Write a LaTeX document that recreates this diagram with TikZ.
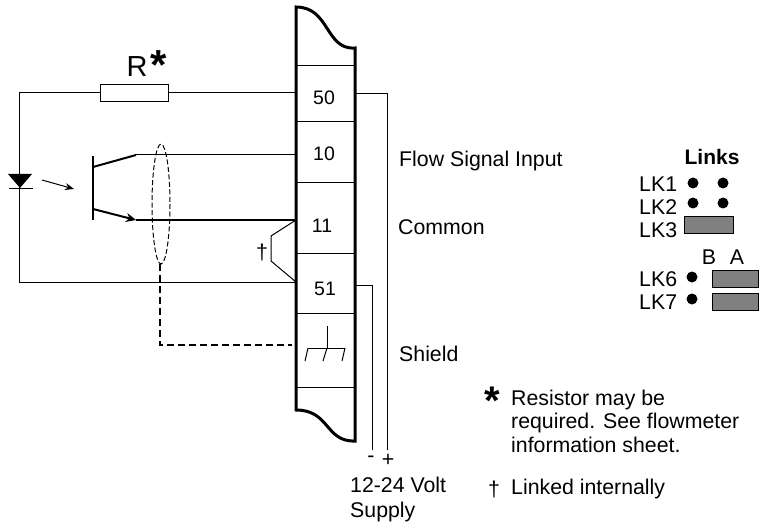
\documentclass[tikz,border=0pt]{standalone}
\usepackage{fontspec}
\setmainfont{Liberation Sans}
\usepackage{xcolor}
\definecolor{g}{rgb}{0.5,0.5,0.5}
\usepackage{tikz}
\usetikzlibrary{arrows.meta, positioning, calc}
\tikzset{
    lab/.style={inner sep=0pt, font=\fontsize{21.3}{23.5}\selectfont},
    numlab/.style={inner sep=0pt, font=\fontsize{19.5}{22}\selectfont},
    leftlab/.style={lab, anchor=west},
    wire/.style={line width=1pt},
    heavy/.style={line width=2pt},
    linkbar/.style={draw, fill=g, line width=0.8pt, inner sep=0pt},
    pin/.style={circle, fill=black, inner sep=0pt, minimum size=11pt},
}

\begin{document}
\begin{tikzpicture}[x=1pt, y=-1pt]
    \useasboundingbox (0,0) rectangle (759,529);

    % Draw terminal block outline
    \draw[line width=3pt] (355,48) .. controls (325,50) and (330,7) .. (296,7)
        -- (296,410) .. controls (330,410) and (325,442) .. (355,441) -- cycle;

    % Draw dividers of the block
    \foreach \y in {66,122,183,253,313,387}
        \draw[wire] (296,\y) -- (355,\y);

    % Terminal labels
    \node[numlab] (t50) at (324,98) {50};
    \node[numlab] (t10) at (324,154) {10};
    \node[numlab] (t11) at (322,226) {11};
    \node[numlab] (t51) at (325,289) {51};

    % Points on the block edges
    \coordinate (p50) at (296,93);
    \coordinate (p10) at (296,155);
    \coordinate (p11) at (296,220);
    \coordinate (p51) at (296,282);
    \coordinate (q50) at (355,94);
    \coordinate (q51) at (355,285);

    % Resistor and its label
    \node[draw, wire, fill=white, minimum width=68pt, minimum height=17pt, inner sep=0pt] (res) at (134,93) {};
    \node[lab, font=\fontsize{29}{30}\selectfont] (rlab) at (137,67) {R};
    \node[lab, font=\fontsize{42}{42}\selectfont\bfseries] (rstar) at (159,65) {*};

    % Loop through the resistor and diode
    \coordinate (cornerA) at (19,93);
    \coordinate (cornerB) at (19,282);
    \draw[wire] (p50) -- (res);
    \draw[wire] (res) -- (cornerA) -- (cornerB) -- (p51);

    % Diode
    \fill (8,174) -- (32,174) -- (20,188) -- cycle;
    \draw[wire] (9,189) -- (33,189);

    % Light arrow
    \coordinate (lightA) at (42,180);
    \coordinate (lightB) at (74,189);
    \draw[wire, -{Stealth[length=9pt,width=7pt]}] (lightA) -- (lightB);

    % Transistor
    \coordinate (base1) at (93,156);
    \coordinate (base2) at (93,220);
    \coordinate (coll) at (93,167);
    \coordinate (emit) at (93,209);
    \coordinate (bendC) at (136,155);
    \coordinate (bendE) at (136,220);
    \draw[line width=2.5pt] (base1) -- (base2);
    \draw[heavy] (coll) -- (bendC);
    \draw[wire] (bendC) -- (p10);
    \draw[heavy, -{Stealth[length=10pt,width=9pt]}] (emit) -- (bendE);
    \draw[heavy] (bendE) -- (p11);

    % Internal link
    \coordinate (linkA) at (271,236);
    \coordinate (linkB) at (271,261);
    \draw[wire] (p11) -- (linkA) -- (linkB) -- (p51);
    \node[lab] (dag) at (262,252) {†};

    % Cable shield
    \draw[wire, dash pattern=on 5pt off 2.5pt] (161,204) ellipse (9 and 60);
    \coordinate (shieldpt) at (160,264);
    \coordinate (shA) at (160,345);
    \coordinate (shB) at (292,345);
    \draw[line width=1.5pt, dash pattern=on 7pt off 4pt] (shieldpt) -- (shA) -- (shB);

    % Earth symbol
    \draw[wire] (327,326) -- (327,348);
    \draw[wire] (308,348) -- (345,348);
    \draw[wire] (327,348) -- (323,361);
    \draw[wire] (308,348) -- (305,361);
    \draw[wire] (345,348) -- (342,361);

    % Supply wires
    \coordinate (supA) at (387,94);
    \coordinate (supB) at (387,450);
    \coordinate (supC) at (372,285);
    \coordinate (supD) at (372,450);
    \draw[wire] (q50) -- (supA) -- (supB);
    \draw[wire] (q51) -- (supC) -- (supD);
    \node[lab] (minus) at (371,459) {-};
    \node[lab] (plus) at (388,460) {+};
    \node[leftlab] (volt) at (350,485) {12-24 Volt};
    \node[leftlab] (supply) at (350,512) {Supply};

    % Labels next to block
    \node[leftlab] (flow) at (399,161) {Flow Signal Input};
    \node[leftlab] (common) at (398,227) {Common};
    \node[leftlab] (shield) at (399,354) {Shield};

    % Notes
    \node[lab, font=\fontsize{40}{40}\selectfont\bfseries] (nstar) at (492,401) {*};
    \node[leftlab, align=left] (n1) at (511,421) {Resistor may be\\required. See flowmeter\\information sheet.};
    \node[lab] (ndag) at (494,489) {†};
    \node[leftlab] (n4) at (511,489) {Linked internally};

    % Links table
    \node[lab, font=\fontsize{21}{24}\selectfont\bfseries] (links) at (712,157) {Links};
    \node[leftlab] (lk1) at (639,184) {LK1};
    \node[leftlab] (lk2) at (639,207) {LK2};
    \node[leftlab] (lk3) at (639,230) {LK3};
    \node[leftlab] (lk6) at (639,279) {LK6};
    \node[leftlab] (lk7) at (639,302) {LK7};
    \node[lab] (colB) at (709,257) {B};
    \node[lab] (colA) at (737,257) {A};
    \foreach \x/\y in {693/183,723/183,693/203,723/203,692/277,692/299}
        \node[pin] at (\x,\y) {};
    \node[linkbar, minimum width=49pt, minimum height=17pt] (bar3) at (708.5,224.5) {};
    \node[linkbar, minimum width=46pt, minimum height=17pt] (bar6) at (735,278.5) {};
    \node[linkbar, minimum width=46pt, minimum height=17pt] (bar7) at (735,301.5) {};
\end{tikzpicture}
\end{document}
